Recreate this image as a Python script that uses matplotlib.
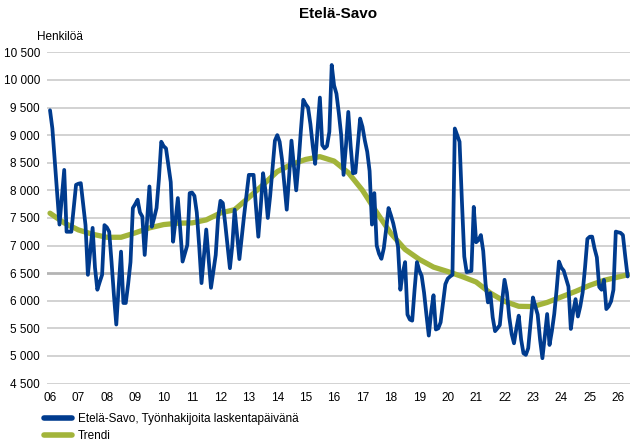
import numpy as np
import matplotlib
matplotlib.use("Agg")
import matplotlib.pyplot as plt
from matplotlib.ticker import FuncFormatter

plt.rcParams['font.family'] = ['Liberation Sans', 'DejaVu Sans']

# Työnhakijat kuukausittain, tammikuu 2006 -> toukokuu 2026
hakijat = [
    9450, 9120, 8540, 7960, 7380, 7870, 8370, 7250, 7250, 7250, 7680, 8100,   # 2006
    8120, 8130, 7750, 7370, 6470, 6900, 7320, 6600, 6200, 6340, 6470, 7370,   # 2007
    7330, 7250, 6700, 6100, 5570, 6250, 6890, 5960, 5960, 6300, 6700, 7680,   # 2008
    7750, 7830, 7600, 7525, 6830, 7450, 8070, 7340, 7500, 7680, 8200, 8880,   # 2009
    8800, 8760, 8450, 8150, 7070, 7450, 7860, 7300, 6710, 6860, 7010, 7950,   # 2010
    7960, 7900, 7600, 7000, 6320, 6800, 7290, 6750, 6235, 6530, 6830, 7500,   # 2011
    7810, 7770, 7400, 7000, 6590, 7000, 7650, 7200, 6755, 7150, 7550, 7920,   # 2012
    8280, 8280, 8280, 7700, 7160, 7700, 8310, 8000, 7500, 7900, 8400, 8900,   # 2013
    9000, 8880, 8560, 8100, 7650, 8250, 8900, 8450, 8000, 8500, 9100, 9640,   # 2014
    9560, 9500, 9200, 8800, 8480, 9100, 9680, 8820, 8760, 8800, 9060, 10270,  # 2015
    9900, 9750, 9400, 9000, 8280, 8800, 9420, 8800, 8310, 8320, 8800, 9300,   # 2016
    9150, 8900, 8700, 8350, 7380, 7950, 7000, 6850, 6760, 6950, 7300, 7680,   # 2017
    7550, 7400, 7200, 6980, 6200, 6500, 6700, 5750, 5660, 5640, 6200, 6700,   # 2018
    6550, 6450, 6150, 5750, 5370, 5800, 6100, 5480, 5500, 5610, 5950, 6300,   # 2019
    6400, 6440, 6470, 9120, 9000, 8880, 7800, 6800, 6520, 6530, 6540, 7700,   # 2020
    7060, 7100, 7190, 6900, 6300, 5970, 6140, 5700, 5450, 5500, 5560, 6000,   # 2021
    6380, 6150, 5700, 5400, 5230, 5500, 5730, 5300, 5050, 5020, 5140, 5600,   # 2022
    6060, 5900, 5750, 5300, 4960, 5350, 5760, 5200, 5450, 5760, 6200, 6710,   # 2023
    6600, 6545, 6400, 6257, 5490, 5800, 6030, 5715, 5900, 6150, 6600, 7120,   # 2024
    7160, 7162, 6950, 6786, 6250, 6200, 6379, 5850, 5900, 5990, 6198, 7253,   # 2025
    7240, 7230, 7190, 6800, 6440,                                             # 2026
]

# Trendi puolen vuoden välein (kuukausi-indeksi, arvo)
trendi_kk = [0, 6, 12, 18, 24, 30, 36, 42, 48, 54, 60, 66, 72, 78, 84, 90, 96, 102,
             108, 114, 120, 126, 132, 138, 144, 150, 156, 162, 168, 174, 180, 186,
             192, 198, 204, 210, 216, 222, 228, 234, 240, 244]
trendi = [7586, 7410, 7283, 7205, 7150, 7150, 7230, 7320, 7380, 7405, 7410, 7465,
          7590, 7650, 7870, 8100, 8340, 8470, 8560, 8610, 8530, 8320, 8000, 7600,
          7220, 6930, 6750, 6610, 6530, 6440, 6340, 6140, 5990, 5900, 5895, 5970,
          6070, 6170, 6280, 6370, 6430, 6470]

vuodet = ['06', '07', '08', '09', '10', '11', '12', '13', '14', '15', '16',
          '17', '18', '19', '20', '21', '22', '23', '24', '25', '26']

sininen = '#003B8E'
vihrea = '#A2B43A'

fig = plt.figure(figsize=(6.41, 4.45), dpi=100)
ax = fig.add_axes([47/641, 1 - 383.6/445, (630 - 47)/641, (383.6 - 52.3)/445])

# vaakaviivat, 6 500 kohdalla tummempi
for v in range(4500, 10501, 500):
    if v == 6500:
        ax.axhline(v, color='#B4B4B4', lw=2.0, zorder=1)
    else:
        ax.axhline(v, color='#CFCFCF', lw=1.3, zorder=1)

kk = np.arange(len(hakijat))
ax.plot(kk, hakijat, color=sininen, lw=2.7, solid_joinstyle='round',
        solid_capstyle='round', zorder=3, label='Etelä-Savo, Työnhakijoita laskentapäivänä')
ax.plot(trendi_kk, trendi, color=vihrea, lw=3.8, solid_joinstyle='round',
        solid_capstyle='round', zorder=2, label='Trendi')

ax.set_xlim(-1.27, 245)
ax.set_ylim(4500, 10500)
ax.set_yticks(range(4500, 10501, 500))
ax.yaxis.set_major_formatter(FuncFormatter(lambda v, p: f"{int(v):,}".replace(',', ' ')))
ax.set_xticks(np.arange(0, 12 * len(vuodet), 12))
ax.set_xticklabels(vuodet)
ax.tick_params(axis='both', length=0, labelsize=8.5, colors='black')
ax.tick_params(axis='y', pad=5)
ax.tick_params(axis='x', pad=6)
for s in ax.spines.values():
    s.set_visible(False)

fig.text(338/641, 1 - 14/445, 'Etelä-Savo', ha='center', va='center',
         fontsize=11, fontweight='bold')
fig.text(37/641, 1 - 37/445, 'Henkilöä', ha='left', va='center', fontsize=8.5)

fig.legend(loc='upper left', bbox_to_anchor=(44/641, 1 - 413/445), frameon=False,
           fontsize=8.5, handlelength=2.4, handletextpad=0.5, labelspacing=0.45,
           borderpad=0, borderaxespad=0)
for l in fig.legends[0].get_lines():
    l.set_linewidth(4)

fig.savefig('out.png', dpi=100)
